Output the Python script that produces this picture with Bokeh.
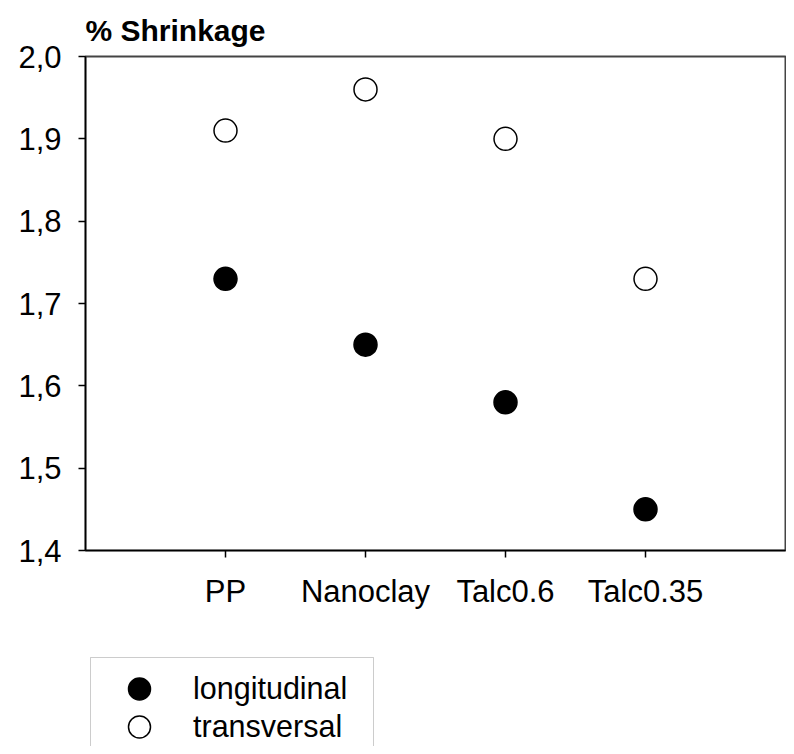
from bokeh.plotting import figure
from bokeh.layouts import column
from bokeh.models import (FixedTicker, CustomJSTickFormatter, Range1d, Legend, LegendItem,
                          BoxAnnotation)
from bokeh.embed import file_html
from bokeh.resources import INLINE

categories = ["PP", "Nanoclay", "Talc0.6", "Talc0.35"]
longitudinal = [1.73, 1.65, 1.58, 1.45]
transversal = [1.91, 1.96, 1.90, 1.73]
y_ticks = [1.4, 1.5, 1.6, 1.7, 1.8, 1.9, 2.0]
series_names = ["longitudinal", "transversal"]

xpos = [i + 1 for i in range(len(categories))]

FONT = "Liberation Sans"
LONG_STYLE = dict(marker="circle", size=23, fill_color="black", line_color="black", line_width=1.5)
TRANS_STYLE = dict(marker="circle", size=23, fill_color="white", line_color="black", line_width=1.5)

W = 786
H_MAIN = 640
H_LEG = 106
LEFT = 85
RIGHT = 1

p = figure(width=W, height=H_MAIN, output_backend="svg", toolbar_location=None,
           x_range=Range1d(0, len(categories) + 1), y_range=Range1d(1.4, 2.0),
           min_border_left=LEFT, min_border_right=RIGHT, min_border_top=56, min_border_bottom=90)
p.background_fill_color = "white"
p.border_fill_color = "white"
p.xgrid.visible = False
p.ygrid.visible = False
p.outline_line_color = "#444444"
p.outline_line_width = 2

p.title.text = "% Shrinkage"
p.title.text_font = FONT
p.title.text_font_size = "30px"
p.title.text_font_style = "bold"
p.title.text_color = "black"
p.title.align = "left"
p.title.standoff = 19

for ax in (p.xaxis, p.yaxis):
    ax.axis_line_color = "black"
    ax.axis_line_width = 1.5
    ax.major_tick_line_color = "black"
    ax.major_tick_line_width = 1.5
    ax.major_tick_in = 0
    ax.major_tick_out = 7
    ax.minor_tick_line_color = None
    ax.major_label_text_font = FONT
    ax.major_label_text_font_size = "31px"
    ax.major_label_text_color = "black"

p.yaxis.ticker = FixedTicker(ticks=y_ticks)
p.yaxis.formatter = CustomJSTickFormatter(code="return tick.toFixed(1).replace('.', ',');")
p.yaxis.major_label_standoff = 17

p.xaxis.ticker = FixedTicker(ticks=xpos)
p.xaxis.major_label_overrides = {x: c for x, c in zip(xpos, categories)}
p.xaxis.major_label_standoff = 16

p.scatter(xpos, longitudinal, **LONG_STYLE)
p.scatter(xpos, transversal, **TRANS_STYLE)

# ---- legend strip below the chart (its frame is aligned with the chart frame) ----
lg = figure(width=W, height=H_LEG, output_backend="svg", toolbar_location=None,
            x_range=Range1d(LEFT, W - RIGHT), y_range=Range1d(0, H_LEG),
            min_border_left=0, min_border_right=0, min_border_top=0, min_border_bottom=0)
lg.axis.visible = False
lg.xgrid.visible = False
lg.ygrid.visible = False
lg.outline_line_color = None
lg.background_fill_color = "white"
lg.border_fill_color = "white"

# key renderers: same data and style, lying outside this strip's visible range
k_long = lg.scatter(xpos, longitudinal, **LONG_STYLE)
k_trans = lg.scatter(xpos, transversal, **TRANS_STYLE)

lg.add_layout(BoxAnnotation(left=90, right=373, top=H_LEG - 17, bottom=-20,
                            fill_alpha=0, line_color="#555555", line_width=1))

def make_legend(label, rend, loc):
    lgd = Legend(items=[LegendItem(label=label, renderers=[rend])], location=loc)
    lgd.label_text_font = FONT
    lgd.label_text_font_size = "30.5px"
    lgd.label_text_color = "black"
    lgd.glyph_width = 88
    lgd.glyph_height = 55
    lgd.padding = 0
    lgd.spacing = 0
    lgd.label_standoff = 10
    lgd.margin = 0
    lgd.border_line_color = None
    lgd.background_fill_alpha = 0
    return lgd

lg.add_layout(make_legend(series_names[0], k_long, (95 - LEFT, 30)), "center")
lg.add_layout(make_legend(series_names[1], k_trans, (95 - LEFT, -8)), "center")

layout = column(p, lg, spacing=0)
open("out.html", "w").write(file_html(layout, INLINE))
